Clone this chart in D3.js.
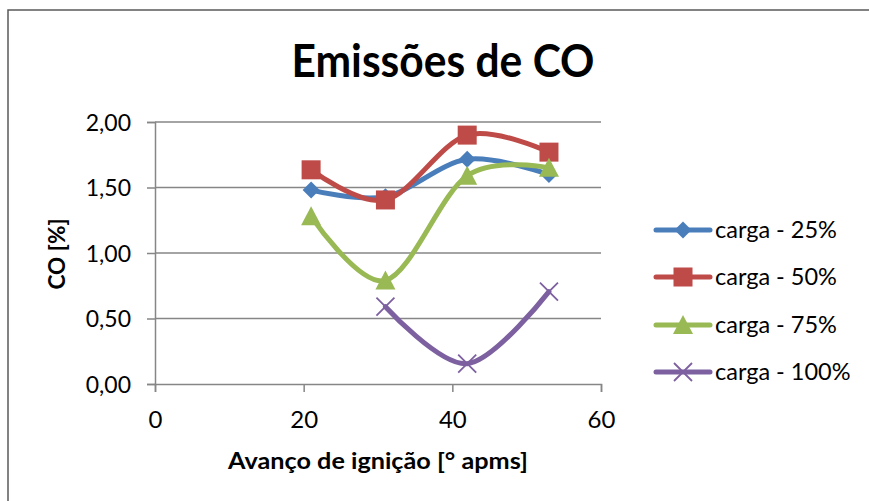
<!DOCTYPE html>
<html>
<head>
<meta charset="utf-8">
<script src="https://cdn.jsdelivr.net/npm/d3@7"></script>
<style>
  html, body { margin: 0; padding: 0; background: #fff; }
  svg { display: block; font-family: Lato, "Open Sans", sans-serif; }
</style>
</head>
<body>
<svg id="chart" width="869" height="501"></svg>
<script>
// ---- data ----
const titleText = "Emissões de CO";
const xTitle = "Avanço de ignição [° apms]";
const yTitle = "CO [%]";
const xTicks = [0, 20, 40, 60];
const yTicks = [0, 0.5, 1.0, 1.5, 2.0];
const seriesNames = ["carga - 25%", "carga - 50%", "carga - 75%", "carga - 100%"];
const seriesColors = ["#4A7EBB", "#BE4B48", "#98B954", "#7D60A0"];
const seriesMarkers = ["diamond", "square", "triangle", "x"];
const x25 = [21, 31, 42, 53];
const y25 = [1.48, 1.43, 1.715, 1.60];
const x50 = [21, 31, 42, 53];
const y50 = [1.635, 1.405, 1.90, 1.77];
const x75 = [21, 31, 42, 53];
const y75 = [1.28, 0.79, 1.59, 1.65];
const x100 = [31, 42, 53];
const y100 = [0.59, 0.155, 0.705];

const seriesX = [x25, x50, x75, x100];
const seriesY = [y25, y50, y75, y100];

// ---- layout ----
const svg = d3.select("#chart");
const plot = { left: 155, right: 601, top: 122, bottom: 384 };
const x = d3.scaleLinear().domain([0, 60]).range([plot.left, plot.right]);
const y = d3.scaleLinear().domain([0, 2]).range([plot.bottom, plot.top]);

// outer frame
svg.append("rect").attr("x", 8).attr("y", 10).attr("width", 900).attr("height", 600)
  .attr("fill", "#fff").attr("stroke", "#595959").attr("stroke-width", 1.5);

// title
svg.append("text").attr("x", 443).attr("y", 77).attr("text-anchor", "middle")
  .attr("font-size", 45).attr("font-weight", "bold").attr("fill", "#000")
  .attr("textLength", 303).attr("lengthAdjust", "spacingAndGlyphs")
  .text(titleText);

// gridlines
svg.append("g").selectAll("line").data(yTicks.filter(d => d > 0)).join("line")
  .attr("x1", plot.left).attr("x2", plot.right)
  .attr("y1", d => y(d)).attr("y2", d => y(d))
  .attr("stroke", "#868686").attr("stroke-width", 1.5);

// y axis
const yAxis = d3.axisLeft(y).tickValues(yTicks).tickSize(8).tickPadding(16)
  .tickFormat(d => d3.format(".2f")(d).replace(".", ","));
const gy = svg.append("g").attr("transform", `translate(${plot.left},0)`).call(yAxis);
gy.select(".domain").attr("stroke", "#868686").attr("stroke-width", 1.5);
gy.selectAll(".tick line").attr("stroke", "#868686").attr("stroke-width", 1.5);
gy.selectAll(".tick text").attr("font-size", 23).attr("font-family", "Lato, sans-serif")
  .attr("fill", "#000").attr("dy", "0.36em");

// x axis
const xAxis = d3.axisBottom(x).tickValues(xTicks).tickSize(8).tickPadding(19);
const gx = svg.append("g").attr("transform", `translate(0,${plot.bottom})`).call(xAxis);
gx.select(".domain").attr("stroke", "#868686").attr("stroke-width", 1.5);
gx.selectAll(".tick line").attr("stroke", "#868686").attr("stroke-width", 1.5);
gx.selectAll(".tick text").attr("font-size", 24).attr("font-family", "Lato, sans-serif")
  .attr("fill", "#000");

// axis titles
svg.append("text").attr("x", 378).attr("y", 469).attr("text-anchor", "middle")
  .attr("font-size", 23).attr("font-weight", "bold").attr("fill", "#000")
  .attr("textLength", 300).attr("lengthAdjust", "spacingAndGlyphs")
  .text(xTitle);
svg.append("text").attr("transform", "translate(65,254) rotate(-90)").attr("text-anchor", "middle")
  .attr("font-size", 23).attr("font-weight", "bold").attr("fill", "#000")
  .attr("textLength", 71).attr("lengthAdjust", "spacingAndGlyphs")
  .text(yTitle);

// marker drawing
function drawMarker(g, type, color, cx, cy) {
  if (type === "diamond") {
    g.append("path").attr("d", `M${cx},${cy - 8.5}L${cx + 8.5},${cy}L${cx},${cy + 8.5}L${cx - 8.5},${cy}Z`)
      .attr("fill", color);
  } else if (type === "square") {
    g.append("rect").attr("x", cx - 9.5).attr("y", cy - 9.5).attr("width", 19).attr("height", 19)
      .attr("fill", color);
  } else if (type === "triangle") {
    g.append("path").attr("d", `M${cx},${cy - 10}L${cx + 10},${cy + 9}L${cx - 10},${cy + 9}Z`)
      .attr("fill", color);
  } else if (type === "x") {
    g.append("path").attr("d", `M${cx - 9},${cy - 9}L${cx + 9},${cy + 9}M${cx + 9},${cy - 9}L${cx - 9},${cy + 9}`)
      .attr("stroke", color).attr("stroke-width", 1.8).attr("fill", "none");
  }
}

const line = d3.line().x(d => x(d[0])).y(d => y(d[1])).curve(d3.curveCardinal.tension(0));

seriesNames.forEach((name, i) => {
  const pts = seriesX[i].map((v, j) => [v, seriesY[i][j]]);
  const g = svg.append("g");
  g.append("path").datum(pts).attr("d", line)
    .attr("fill", "none").attr("stroke", seriesColors[i]).attr("stroke-width", 5)
    .attr("stroke-linecap", "round").attr("stroke-linejoin", "round");
  pts.forEach(p => drawMarker(g, seriesMarkers[i], seriesColors[i], x(p[0]), y(p[1])));
});

// legend
const legendY = [230, 277, 325, 372];
seriesNames.forEach((name, i) => {
  const g = svg.append("g");
  const ly = legendY[i];
  g.append("line").attr("x1", 656).attr("x2", 710).attr("y1", ly).attr("y2", ly)
    .attr("stroke", seriesColors[i]).attr("stroke-width", 5).attr("stroke-linecap", "round");
  drawMarker(g, seriesMarkers[i], seriesColors[i], 683, ly);
  g.append("text").attr("x", 715).attr("y", ly).attr("dy", "0.36em")
    .attr("font-size", 23.5).attr("fill", "#000")
    .text(name);
});
</script>
</body>
</html>
